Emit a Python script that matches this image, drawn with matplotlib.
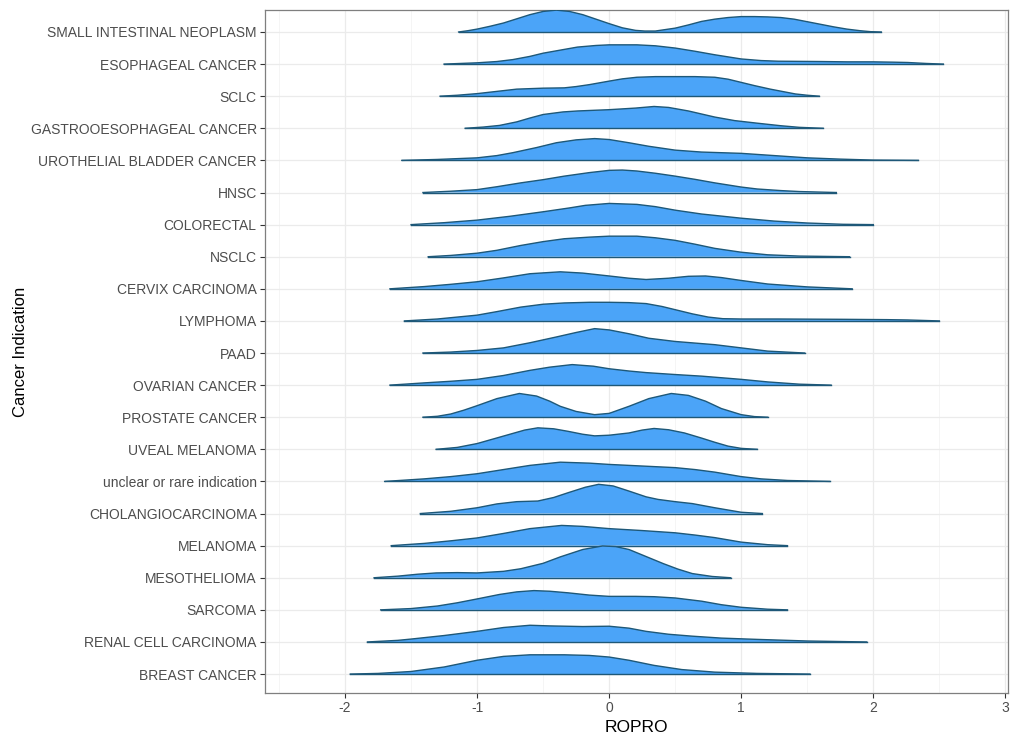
import matplotlib
matplotlib.use("Agg")
import matplotlib.pyplot as plt

plt.rcParams['font.family'] = ['Liberation Sans', 'DejaVu Sans']

# Categories from bottom to top
categories = ["BREAST CANCER", "RENAL CELL CARCINOMA", "SARCOMA", "MESOTHELIOMA",
              "MELANOMA", "CHOLANGIOCARCINOMA", "unclear or rare indication",
              "UVEAL MELANOMA", "PROSTATE CANCER", "OVARIAN CANCER", "PAAD",
              "LYMPHOMA", "CERVIX CARCINOMA", "NSCLC", "COLORECTAL", "HNSC",
              "UROTHELIAL BLADDER CANCER", "GASTROOESOPHAGEAL CANCER", "SCLC",
              "ESOPHAGEAL CANCER", "SMALL INTESTINAL NEOPLASM"]

# Density profiles (ROPRO value, relative ridge height)
breast_x = [-1.96, -1.75, -1.5, -1.25, -1.0, -0.8, -0.6, -0.34, -0.15, 0.0, 0.15, 0.34, 0.55, 0.8, 1.12, 1.52]
breast_h = [0.0, 0.02, 0.08, 0.22, 0.43, 0.55, 0.60, 0.60, 0.58, 0.53, 0.43, 0.27, 0.14, 0.06, 0.02, 0.0]
renal_x = [-1.83, -1.6, -1.5, -1.25, -1.0, -0.8, -0.6, -0.45, -0.2, 0.0, 0.15, 0.28, 0.45, 0.63, 0.85, 1.12, 1.5, 1.95]
renal_h = [0.0, 0.05, 0.09, 0.20, 0.33, 0.45, 0.52, 0.50, 0.48, 0.49, 0.43, 0.33, 0.24, 0.18, 0.12, 0.08, 0.03, 0.0]
sarcoma_x = [-1.73, -1.5, -1.3, -1.15, -1.0, -0.83, -0.7, -0.57, -0.45, -0.31, -0.15, 0.0, 0.2, 0.34, 0.5, 0.7, 0.85, 1.0, 1.2, 1.35]
sarcoma_h = [0.0, 0.04, 0.12, 0.22, 0.34, 0.48, 0.56, 0.60, 0.58, 0.53, 0.46, 0.42, 0.42, 0.41, 0.37, 0.27, 0.16, 0.08, 0.02, 0.0]
meso_x = [-1.78, -1.6, -1.45, -1.31, -1.15, -1.0, -0.8, -0.67, -0.5, -0.37, -0.2, -0.05, 0.05, 0.15, 0.28, 0.41, 0.52, 0.63, 0.78, 0.92]
meso_h = [0.0, 0.05, 0.11, 0.15, 0.16, 0.15, 0.20, 0.28, 0.45, 0.65, 0.88, 0.99, 0.97, 0.88, 0.66, 0.44, 0.27, 0.13, 0.04, 0.0]
melanoma_x = [-1.65, -1.4, -1.2, -1.0, -0.8, -0.6, -0.36, -0.2, 0.0, 0.25, 0.5, 0.65, 0.8, 1.0, 1.2, 1.35]
melanoma_h = [0.0, 0.07, 0.15, 0.24, 0.38, 0.53, 0.63, 0.60, 0.53, 0.47, 0.40, 0.33, 0.25, 0.11, 0.03, 0.0]
cholangio_x = [-1.43, -1.2, -1.0, -0.85, -0.7, -0.54, -0.42, -0.31, -0.18, -0.08, 0.03, 0.15, 0.28, 0.37, 0.5, 0.63, 0.8, 1.0, 1.16]
cholangio_h = [0.0, 0.07, 0.18, 0.30, 0.37, 0.39, 0.50, 0.65, 0.82, 0.91, 0.86, 0.70, 0.52, 0.44, 0.37, 0.31, 0.18, 0.04, 0.0]
unclear_x = [-1.70, -1.4, -1.2, -1.0, -0.8, -0.6, -0.37, -0.15, 0.0, 0.25, 0.5, 0.65, 0.8, 1.0, 1.15, 1.35, 1.67]
unclear_h = [0.0, 0.08, 0.15, 0.24, 0.37, 0.50, 0.60, 0.57, 0.53, 0.48, 0.43, 0.37, 0.29, 0.15, 0.08, 0.03, 0.0]
uveal_x = [-1.31, -1.15, -1.0, -0.88, -0.76, -0.64, -0.54, -0.42, -0.31, -0.2, -0.11, 0.0, 0.15, 0.25, 0.34, 0.45, 0.57, 0.7, 0.8, 0.9, 1.0, 1.12]
uveal_h = [0.0, 0.06, 0.18, 0.32, 0.46, 0.60, 0.67, 0.64, 0.56, 0.47, 0.42, 0.44, 0.51, 0.60, 0.65, 0.61, 0.51, 0.35, 0.22, 0.10, 0.03, 0.0]
prostate_x = [-1.41, -1.3, -1.2, -1.1, -1.0, -0.85, -0.68, -0.55, -0.45, -0.37, -0.25, -0.11, 0.0, 0.15, 0.3, 0.47, 0.6, 0.73, 0.85, 1.0, 1.1, 1.2]
prostate_h = [0.0, 0.03, 0.10, 0.22, 0.36, 0.58, 0.74, 0.66, 0.50, 0.34, 0.18, 0.08, 0.12, 0.34, 0.58, 0.74, 0.68, 0.50, 0.27, 0.08, 0.02, 0.0]
ovarian_x = [-1.66, -1.4, -1.2, -1.0, -0.8, -0.6, -0.45, -0.28, -0.12, 0.0, 0.15, 0.28, 0.5, 0.7, 0.85, 1.0, 1.2, 1.44, 1.68]
ovarian_h = [0.0, 0.07, 0.12, 0.18, 0.30, 0.46, 0.56, 0.64, 0.59, 0.51, 0.44, 0.39, 0.33, 0.28, 0.23, 0.18, 0.10, 0.03, 0.0]
paad_x = [-1.41, -1.2, -1.0, -0.8, -0.6, -0.4, -0.25, -0.11, 0.0, 0.15, 0.3, 0.5, 0.65, 0.8, 1.0, 1.2, 1.48]
paad_h = [0.0, 0.03, 0.08, 0.16, 0.32, 0.50, 0.64, 0.76, 0.72, 0.60, 0.46, 0.36, 0.31, 0.26, 0.16, 0.06, 0.0]
lymphoma_x = [-1.55, -1.3, -1.0, -0.85, -0.67, -0.5, -0.34, -0.15, 0.0, 0.15, 0.28, 0.4, 0.52, 0.63, 0.75, 0.86, 1.0, 1.28, 1.77, 2.1, 2.26, 2.5]
lymphoma_h = [0.0, 0.06, 0.18, 0.29, 0.43, 0.52, 0.56, 0.58, 0.58, 0.57, 0.54, 0.45, 0.33, 0.22, 0.12, 0.07, 0.06, 0.06, 0.05, 0.04, 0.03, 0.0]
cervix_x = [-1.66, -1.4, -1.2, -1.0, -0.8, -0.6, -0.37, -0.2, 0.0, 0.15, 0.28, 0.45, 0.6, 0.73, 0.85, 1.0, 1.2, 1.5, 1.84]
cervix_h = [0.0, 0.07, 0.14, 0.22, 0.34, 0.47, 0.53, 0.49, 0.40, 0.33, 0.29, 0.33, 0.39, 0.40, 0.35, 0.26, 0.15, 0.06, 0.0]
nsclc_x = [-1.37, -1.2, -1.0, -0.85, -0.67, -0.5, -0.34, -0.15, 0.0, 0.21, 0.35, 0.5, 0.65, 0.8, 1.0, 1.2, 1.44, 1.82]
nsclc_h = [0.0, 0.04, 0.11, 0.20, 0.35, 0.47, 0.56, 0.61, 0.64, 0.64, 0.59, 0.51, 0.39, 0.26, 0.14, 0.06, 0.02, 0.0]
colorectal_x = [-1.5, -1.25, -1.0, -0.75, -0.5, -0.3, -0.18, 0.0, 0.21, 0.35, 0.5, 0.7, 1.0, 1.25, 1.5, 1.77, 2.0]
colorectal_h = [0.0, 0.06, 0.14, 0.26, 0.40, 0.52, 0.60, 0.66, 0.63, 0.56, 0.45, 0.33, 0.20, 0.11, 0.05, 0.01, 0.0]
hnsc_x = [-1.41, -1.2, -1.0, -0.85, -0.67, -0.5, -0.34, -0.15, 0.0, 0.1, 0.21, 0.35, 0.5, 0.65, 0.8, 1.0, 1.12, 1.3, 1.44, 1.72]
hnsc_h = [0.0, 0.04, 0.09, 0.18, 0.30, 0.40, 0.51, 0.62, 0.69, 0.70, 0.67, 0.60, 0.51, 0.41, 0.30, 0.17, 0.11, 0.06, 0.03, 0.0]
urothelial_x = [-1.57, -1.3, -1.0, -0.85, -0.73, -0.55, -0.4, -0.25, -0.11, 0.0, 0.15, 0.3, 0.5, 0.7, 1.0, 1.25, 1.5, 1.75, 2.0, 2.34]
urothelial_h = [0.0, 0.03, 0.08, 0.15, 0.24, 0.40, 0.55, 0.64, 0.68, 0.65, 0.55, 0.44, 0.32, 0.26, 0.22, 0.15, 0.08, 0.04, 0.01, 0.0]
gastro_x = [-1.09, -0.95, -0.83, -0.7, -0.6, -0.5, -0.35, -0.24, 0.0, 0.2, 0.34, 0.45, 0.6, 0.8, 0.95, 1.12, 1.3, 1.44, 1.62]
gastro_h = [0.0, 0.04, 0.09, 0.20, 0.32, 0.43, 0.51, 0.54, 0.58, 0.63, 0.68, 0.65, 0.54, 0.35, 0.24, 0.16, 0.08, 0.03, 0.0]
sclc_x = [-1.28, -1.15, -1.0, -0.85, -0.7, -0.5, -0.34, -0.25, -0.15, 0.0, 0.1, 0.21, 0.35, 0.5, 0.65, 0.8, 0.9, 1.0, 1.1, 1.22, 1.41, 1.5, 1.59]
sclc_h = [0.0, 0.03, 0.08, 0.15, 0.22, 0.25, 0.26, 0.30, 0.36, 0.47, 0.54, 0.59, 0.61, 0.61, 0.61, 0.59, 0.53, 0.43, 0.33, 0.22, 0.07, 0.03, 0.0]
esophageal_x = [-1.25, -1.0, -0.85, -0.73, -0.6, -0.5, -0.35, -0.24, -0.1, 0.0, 0.21, 0.35, 0.5, 0.65, 0.8, 1.0, 1.15, 1.28, 1.6, 1.8, 2.0, 2.15, 2.26, 2.4, 2.53]
esophageal_h = [0.0, 0.04, 0.08, 0.14, 0.24, 0.34, 0.45, 0.53, 0.58, 0.60, 0.60, 0.57, 0.50, 0.40, 0.29, 0.16, 0.11, 0.09, 0.08, 0.07, 0.07, 0.06, 0.05, 0.02, 0.0]
small_int_x = [-1.14, -1.07, -1.0, -0.9, -0.8, -0.7, -0.6, -0.5, -0.4, -0.3, -0.2, -0.1, 0.0, 0.1, 0.2, 0.27, 0.35, 0.5, 0.6, 0.7, 0.8, 0.9, 1.0, 1.1, 1.2, 1.3, 1.4, 1.5, 1.6, 1.7, 1.8, 1.9, 1.98, 2.06]
small_int_h = [0.0, 0.04, 0.09, 0.18, 0.28, 0.41, 0.54, 0.64, 0.68, 0.64, 0.54, 0.40, 0.26, 0.13, 0.05, 0.03, 0.03, 0.12, 0.22, 0.33, 0.40, 0.45, 0.48, 0.48, 0.47, 0.45, 0.40, 0.32, 0.24, 0.16, 0.09, 0.04, 0.01, 0.0]

profiles_x = [breast_x, renal_x, sarcoma_x, meso_x, melanoma_x, cholangio_x, unclear_x,
              uveal_x, prostate_x, ovarian_x, paad_x, lymphoma_x, cervix_x, nsclc_x,
              colorectal_x, hnsc_x, urothelial_x, gastro_x, sclc_x, esophageal_x, small_int_x]
profiles_h = [breast_h, renal_h, sarcoma_h, meso_h, melanoma_h, cholangio_h, unclear_h,
              uveal_h, prostate_h, ovarian_h, paad_h, lymphoma_h, cervix_h, nsclc_h,
              colorectal_h, hnsc_h, urothelial_h, gastro_h, sclc_h, esophageal_h, small_int_h]

x_ticks = [-2, -1, 0, 1, 2, 3]
x_minor = [-2.5, -1.5, -0.5, 0.5, 1.5, 2.5]

fig = plt.figure(figsize=(10.11, 7.36), dpi=100)
ax = fig.add_axes([265/1011, 1-693/736, (1008-265)/1011, (693-10)/736])

fill_col = '#4ba4f8'
edge_col = '#1e5878'

n = len(categories)
for i in range(n - 1, -1, -1):
    xs = profiles_x[i]
    ys = [i + h for h in profiles_h[i]]
    z = 10 + (n - i)
    ax.fill_between(xs, [i] * len(xs), ys, facecolor=fill_col, edgecolor='none', zorder=z)
    ax.plot(xs, ys, color=edge_col, lw=1.0, zorder=z + 0.5, solid_joinstyle='round')
    ax.plot([xs[0], xs[-1]], [i, i], color=edge_col, lw=1.0, zorder=z + 0.5)

ax.set_xlim(-2.606, 3.02)
ax.set_ylim(-0.59, 20.685)
ax.set_yticks(range(n))
ax.set_yticklabels(categories)
ax.set_xticks(x_ticks)
ax.set_xticklabels([str(t) for t in x_ticks])
ax.set_xticks(x_minor, minor=True)

ax.grid(True, which='major', color='#ebebeb', lw=0.9, zorder=0)
ax.grid(True, which='minor', axis='x', color='#f2f2f2', lw=0.5, zorder=0)
ax.set_axisbelow(True)

for s in ax.spines.values():
    s.set_color('#7f7f7f')
    s.set_linewidth(0.9)

ax.tick_params(axis='both', which='major', length=3.5, width=0.8, color='#333333',
               labelcolor='#4d4d4d', labelsize=10, pad=2.5)
ax.tick_params(axis='x', which='minor', length=0)

ax.set_xlabel('ROPRO', fontsize=12.5, color='black', labelpad=3)
ax.set_ylabel('Cancer Indication', fontsize=12, color='black', labelpad=2)

fig.savefig('out.png', dpi=100)
